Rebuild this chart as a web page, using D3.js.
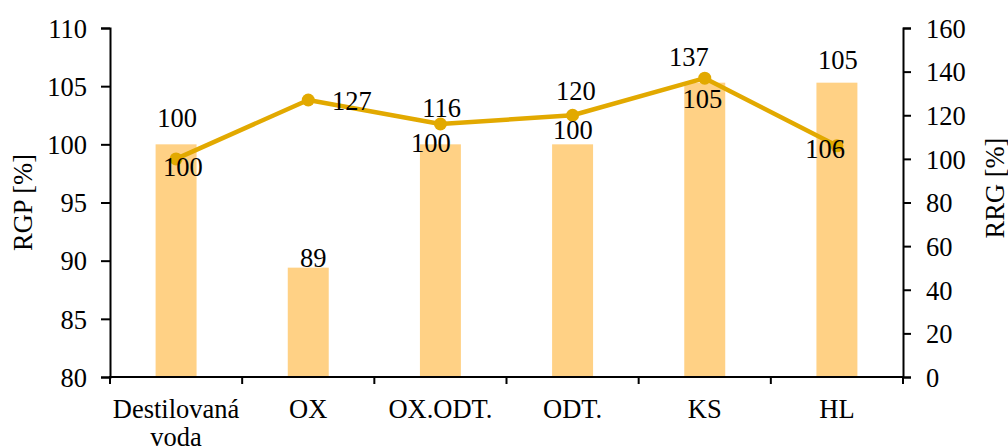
<!DOCTYPE html>
<html>
<head>
<meta charset="utf-8">
<script src="https://cdn.jsdelivr.net/npm/d3@7"></script>
<style>
  html, body { margin: 0; padding: 0; background: #fff; }
  svg { display: block; }
</style>
</head>
<body>
<svg id="chart" width="1008" height="448" font-family="Liberation Serif, serif"></svg>
<script>
// ---- data ----
const categories = ["Destilovaná voda", "OX", "OX.ODT.", "ODT.", "KS", "HL"];
const rgpValues = [100, 89.4, 100, 100, 105.3, 105.3];   // bars, left axis
const rrgValues = [100, 127, 116, 120, 137, 106];          // line, right axis
const rgpLabels = ["100", "89", "100", "100", "105", "105"];
const rrgLabels = ["100", "127", "116", "120", "137", "106"];
const leftTicks = [80, 85, 90, 95, 100, 105, 110];
const rightTicks = [0, 20, 40, 60, 80, 100, 120, 140, 160];

// ---- layout / style (not data) ----
const plot = { left: 110, right: 903, top: 28, bottom: 377 };
const fontSize = 26.5;
const FONT = "Liberation Serif";
const barColor = "#FFD185";
const lineColor = "#E2A900";
// manual data-label placements (dx from category centre, dy baseline from mark)
const barLabelOffsets = [[1, -17], [5, -1], [-9.5, 7.4], [0.3, -5], [-2.5, 25], [1, -13.4]];
const lineLabelOffsets = [[6.7, 17], [43.7, 10], [1.2, -7.3], [3.3, -15.3], [-16, -12.2], [-11.7, 12.5]];

const svg = d3.select("#chart");

const x = d3.scaleBand().domain(categories).range([plot.left, plot.right]).padding(0);
const yL = d3.scaleLinear().domain([80, 110]).range([plot.bottom, plot.top]);
const yR = d3.scaleLinear().domain([0, 160]).range([plot.bottom, plot.top]);
const barW = x.bandwidth() * 0.31;
const cx = d => x(d) + x.bandwidth() / 2;

function font(sel) {
  return sel.attr("font-family", FONT).attr("font-size", fontSize).attr("fill", "#000");
}

// bars
svg.append("g").selectAll("rect").data(categories).join("rect")
  .attr("x", d => cx(d) - barW / 2)
  .attr("y", (d, i) => yL(rgpValues[i]))
  .attr("width", barW)
  .attr("height", (d, i) => yL(80) - yL(rgpValues[i]))
  .attr("fill", barColor);

// line
const line = d3.line().x((d, i) => cx(categories[i])).y(d => yR(d));
svg.append("path").datum(rrgValues)
  .attr("d", line)
  .attr("fill", "none")
  .attr("stroke", lineColor)
  .attr("stroke-width", 4.5)
  .attr("stroke-linejoin", "round");
svg.append("g").selectAll("circle").data(rrgValues).join("circle")
  .attr("cx", (d, i) => cx(categories[i]))
  .attr("cy", d => yR(d))
  .attr("r", 6.5)
  .attr("fill", lineColor);

// axes
function styleAxis(g) {
  g.attr("font-family", FONT).attr("font-size", fontSize);
  g.selectAll("path, line").attr("stroke", "#000").attr("stroke-width", 2);
  font(g.selectAll("text"));
}
const gL = svg.append("g").attr("transform", `translate(${plot.left},0)`)
  .call(d3.axisLeft(yL).tickValues(leftTicks).tickSize(9).tickSizeOuter(9).tickPadding(14));
styleAxis(gL);
gL.selectAll(".tick text").attr("dy", "0.35em");

const gR = svg.append("g").attr("transform", `translate(${plot.right},0)`)
  .call(d3.axisRight(yR).tickValues(rightTicks).tickSize(8).tickSizeOuter(8).tickPadding(15));
styleAxis(gR);
gR.selectAll(".tick text").attr("dy", "0.35em");

// bottom axis with ticks at band boundaries
const boundaries = d3.range(categories.length + 1).map(i => plot.left + i * x.step());
const gB = svg.append("g");
gB.append("line").attr("x1", plot.left - 1).attr("x2", plot.right + 1)
  .attr("y1", plot.bottom).attr("y2", plot.bottom)
  .attr("stroke", "#000").attr("stroke-width", 2);
gB.selectAll("line.tk").data(boundaries).join("line").attr("class", "tk")
  .attr("x1", d => d).attr("x2", d => d)
  .attr("y1", plot.bottom).attr("y2", plot.bottom + 7)
  .attr("stroke", "#000").attr("stroke-width", 2);
const catText = font(gB.selectAll("text").data(categories).join("text"))
  .attr("text-anchor", "middle")
  .attr("x", d => cx(d))
  .attr("y", 418);
catText.each(function (d) {
  const words = d === "Destilovaná voda" ? ["Destilovaná", "voda"] : [d];
  const t = d3.select(this);
  words.forEach((w, k) => t.append("tspan").attr("x", cx(d)).attr("dy", k === 0 ? 0 : 28).text(w));
});

// axis titles
font(svg.append("text"))
  .attr("transform", `translate(32,${(plot.top + plot.bottom) / 2}) rotate(-90)`)
  .attr("text-anchor", "middle")
  .text("RGP [%]");
font(svg.append("text"))
  .attr("transform", `translate(1004,188) rotate(-90)`)
  .attr("text-anchor", "middle")
  .text("RRG [%]");

// data labels
font(svg.append("g").selectAll("text").data(categories).join("text"))
  .attr("text-anchor", "middle")
  .attr("x", (d, i) => cx(d) + barLabelOffsets[i][0])
  .attr("y", (d, i) => yL(rgpValues[i]) + barLabelOffsets[i][1])
  .text((d, i) => rgpLabels[i]);
font(svg.append("g").selectAll("text").data(categories).join("text"))
  .attr("text-anchor", "middle")
  .attr("x", (d, i) => cx(d) + lineLabelOffsets[i][0])
  .attr("y", (d, i) => yR(rrgValues[i]) + lineLabelOffsets[i][1])
  .text((d, i) => rrgLabels[i]);
</script>
</body>
</html>
